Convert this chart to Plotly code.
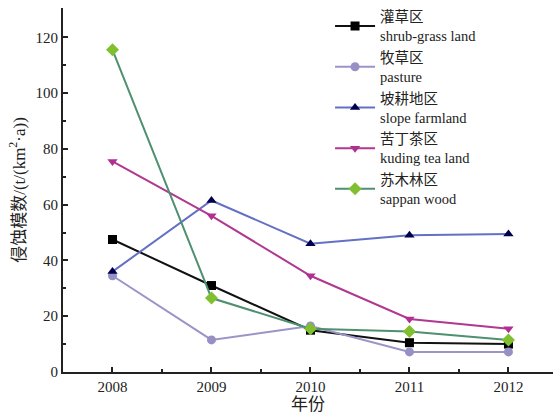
import plotly.graph_objects as go

years = [2008, 2009, 2010, 2011, 2012]
shrub = [47.5, 31.0, 15.0, 10.5, 10.0]
pasture = [34.5, 11.5, 16.5, 7.2, 7.2]
slope = [36.0, 61.5, 46.0, 49.0, 49.5]
kuding = [75.5, 56.0, 34.5, 19.0, 15.5]
sappan = [115.5, 26.5, 15.5, 14.5, 11.5]

names = ["灌草区<br>shrub-grass land", "牧草区<br>pasture", "坡耕地区<br>slope farmland",
         "苦丁茶区<br>kuding tea land", "苏木林区<br>sappan wood"]

series = [
    (shrub, "#111111", "#000000", "square"),
    (pasture, "#9a94c8", "#9690c4", "circle"),
    (slope, "#6470c4", "#000050", "triangle-up"),
    (kuding, "#b03890", "#b03090", "triangle-down"),
    (sappan, "#4e9070", "#80c030", "diamond"),
]

fig = go.Figure()
for (vals, lc, mc, sym), nm in zip(series, names):
    fig.add_trace(go.Scatter(
        x=years, y=vals, name=nm, mode="lines+markers",
        line=dict(color=lc, width=2),
        marker=dict(color=mc, symbol=sym, size=9 if sym != "diamond" else 10),
    ))

font_main = "Liberation Serif, Noto Sans CJK SC, serif"
fig.update_layout(
    width=555, height=416,
    margin=dict(l=63, r=2, t=8, b=44, autoexpand=False),
    paper_bgcolor="white", plot_bgcolor="white",
    font=dict(family=font_main, size=15, color="#222222"),
    showlegend=True,
    legend=dict(x=0.545, y=1.02, xanchor="left", yanchor="top",
                bgcolor="rgba(0,0,0,0)", font=dict(size=14.5, family=font_main),
                itemwidth=40, maxheight=400),
    xaxis=dict(range=[2007.5, 2012.45], tickvals=years, ticktext=[str(y) for y in years],
               automargin=False,
               showline=True, linecolor="#222222", linewidth=2, showgrid=False, zeroline=False,
               ticks="inside", ticklen=5, tickwidth=1.5, tickcolor="#222222",
               tickfont=dict(size=15),
               minor=dict(tickvals=[2008.5, 2009.5, 2010.5, 2011.5], ticks="inside", ticklen=3,
                          tickcolor="#222222", tickwidth=1.5),
               title=dict(text="年份", font=dict(size=17, family=font_main), standoff=2)),
    yaxis=dict(range=[0, 130.5], tickvals=[0, 20, 40, 60, 80, 100, 120],
               automargin=False,
               showline=True, linecolor="#222222", linewidth=2, showgrid=False, zeroline=False,
               ticks="inside", ticklen=5, tickwidth=1.5, tickcolor="#222222",
               tickfont=dict(size=15),
               minor=dict(tickvals=[10, 30, 50, 70, 90, 110], ticks="inside", ticklen=3,
                          tickcolor="#222222", tickwidth=1.5),
               title=dict(text="侵蚀模数/(t/(km<sup>2</sup>·a))",
                          font=dict(size=17, family=font_main), standoff=6)),
)

fig.write_html("out.html", config={"displayModeBar": False},
               post_script="document.body.style.margin='0px';")
